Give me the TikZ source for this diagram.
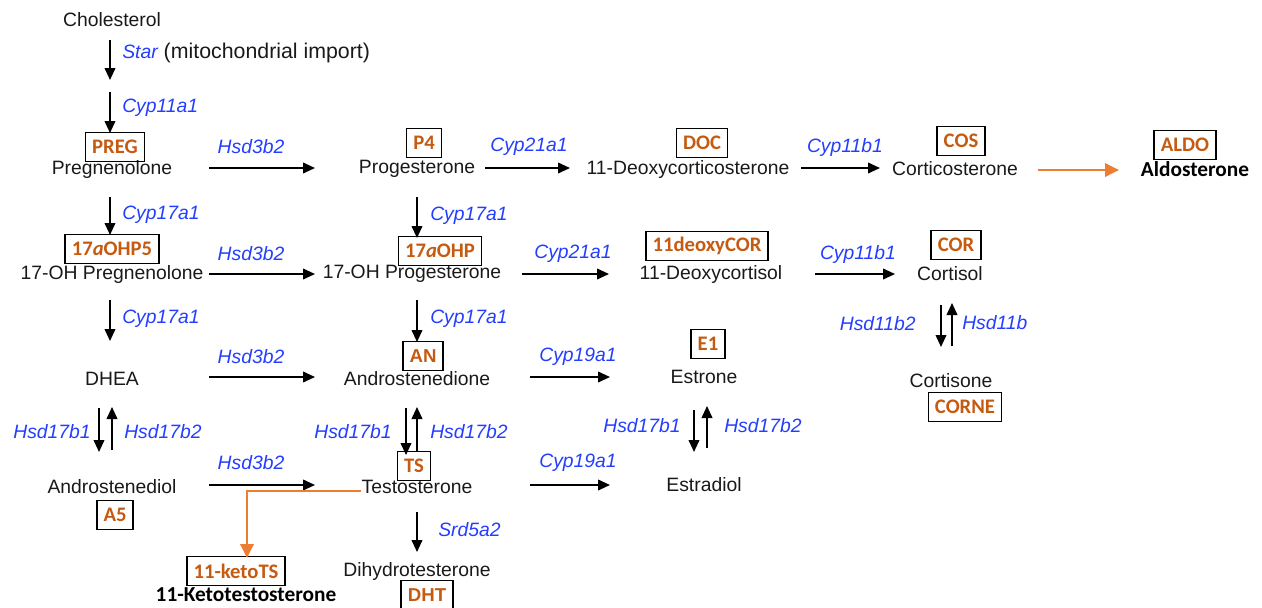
\documentclass[tikz,border=0pt]{standalone}
\usepackage{fontspec}
\setmainfont{Liberation Sans}
\newfontfamily\carlito{Carlito}
\usetikzlibrary{arrows.meta}
\definecolor{enzblue}{RGB}{35,62,255}
\definecolor{abbrorange}{RGB}{197,90,17}
\definecolor{arrorange}{RGB}{237,125,49}
\definecolor{mettext}{RGB}{25,25,25}
\tikzset{
  met/.style={font=\fontsize{14.5}{16}\selectfont, text=mettext, inner sep=0pt, anchor=center},
  metbold/.style={font=\carlito\bfseries\fontsize{16}{18}\selectfont, text=black, inner sep=0pt, anchor=center},
  enz/.style={font=\fontsize{14.5}{16}\selectfont\itshape, text=enzblue, inner sep=0pt},
  abbr/.style={draw=black, line width=1.1pt, font=\carlito\bfseries\fontsize{15.5}{17}\selectfont, text=abbrorange, inner xsep=5pt, minimum height=21.5pt, anchor=center},
  abbrA/.style={abbr, font=\bfseries\fontsize{14}{16}\selectfont},
  arr/.style={line width=1.3pt, -{Triangle[length=9pt,width=8pt]}},
  oarr/.style={line width=1.8pt, draw=arrorange, -{Triangle[length=10.5pt,width=10pt]}, color=arrorange},
}
\begin{document}
\begin{tikzpicture}[x=0.75pt,y=-0.75pt]
\useasboundingbox (0,0) rectangle (1262,607);

% ---------- metabolites ----------
\node[met] (chol) at (112,20) {Cholesterol};
\node[met] (preg) at (112,169) {Pregnenolone};
\node[met] (ohpreg) at (112,274) {17-OH Pregnenolone};
\node[met] (dhea) at (112,379) {DHEA};
\node[met] (adiol) at (112,487) {Androstenediol};
\node[met] (prog) at (417,169) {Progesterone};
\node[met] (ohprog) at (412,274) {17-OH Progesterone};
\node[met] (adione) at (417,379) {Androstenedione};
\node[met] (testo) at (417,487) {Testosterone};
\node[met] (dht) at (417,571) {Dihydrotesterone};
\node[met] (doc) at (688,169) {11-Deoxycorticosterone};
\node[met] (dcort) at (711,274) {11-Deoxycortisol};
\node[met] (estrone) at (704,377) {Estrone};
\node[met] (estradiol) at (704,485) {Estradiol};
\node[met] (cortico) at (955,169) {Corticosterone};
\node[met] (cortisol) at (950,274) {Cortisol};
\node[met] (cortisone) at (951,381) {Cortisone};
\node[metbold] (aldo) at (1195,169) {Aldosterone};
\node[metbold] (kts) at (246,595) {11-Ketotestosterone};

% ---------- abbreviation boxes ----------
\node[abbr] (bpreg) at (115,147) {PREG};
\node[abbr] (bohp5) at (112,249) {17\textit{a}OHP5};
\node[abbr] (ba5) at (115,515) {A5};
\node[abbr] (bp4) at (424,143) {P4};
\node[abbr] (bohp) at (440,251) {17\textit{a}OHP};
\node[abbrA] (ban) at (423,356) {AN};
\node[abbr] (bts) at (414,466) {TS};
\node[abbrA] (bdht) at (427,595) {DHT};
\node[abbr] (bkts) at (236,571) {11-ketoTS};
\node[abbr] (bdoc) at (702,143) {DOC};
\node[abbr] (bdcor) at (707,246) {11deoxyCOR};
\node[abbr] (be1) at (708,344) {E1};
\node[abbr] (bcos) at (961,141) {COS};
\node[abbr] (bcor) at (956,245) {COR};
\node[abbr] (bcorne) at (965,407) {CORNE};
\node[abbr] (baldo) at (1185,145) {ALDO};

% ---------- arrow end points ----------
\coordinate (s1a) at (110,40);  \coordinate (s1b) at (110,80);
\coordinate (c11a) at (110,92); \coordinate (c11b) at (110,133);
\coordinate (v1a) at (110,197); \coordinate (v1b) at (110,235);
\coordinate (v2a) at (110,300); \coordinate (v2b) at (110,341);
\coordinate (d1a) at (99,408);  \coordinate (d1b) at (99,452);
\coordinate (u1a) at (112,450); \coordinate (u1b) at (112,407);
\coordinate (h1a) at (209,168); \coordinate (h1b) at (315,168);
\coordinate (h2a) at (209,274); \coordinate (h2b) at (315,274);
\coordinate (h3a) at (209,377); \coordinate (h3b) at (315,377);
\coordinate (h4a) at (209,485); \coordinate (h4b) at (315,485);
\coordinate (p1a) at (417,197); \coordinate (p1b) at (417,238);
\coordinate (p2a) at (417,300); \coordinate (p2b) at (417,342);
\coordinate (d2a) at (406,408); \coordinate (d2b) at (406,455);
\coordinate (u2a) at (417,452); \coordinate (u2b) at (417,407);
\coordinate (sr1) at (417,512); \coordinate (sr2) at (417,552);
\coordinate (c21a) at (485,168); \coordinate (c21b) at (570,168);
\coordinate (c22a) at (522,274); \coordinate (c22b) at (609,274);
\coordinate (c19a) at (530,377); \coordinate (c19b) at (610,377);
\coordinate (c19c) at (530,485); \coordinate (c19d) at (610,485);
\coordinate (d3a) at (694,410); \coordinate (d3b) at (694,452);
\coordinate (u3a) at (707,448); \coordinate (u3b) at (707,406);
\coordinate (cb1a) at (801,168); \coordinate (cb1b) at (880,168);
\coordinate (cb2a) at (815,274); \coordinate (cb2b) at (895,274);
\coordinate (d4a) at (941,305); \coordinate (d4b) at (941,347);
\coordinate (u4a) at (952,346); \coordinate (u4b) at (952,303);
\coordinate (oa1) at (1038,170); \coordinate (oa2) at (1119,170);
\coordinate (ob1) at (361,491); \coordinate (ob2) at (247,491); \coordinate (ob3) at (247,558);

% ---------- arrows ----------
\draw[arr] (s1a) -- (s1b);
\draw[arr] (c11a) -- (c11b);
\draw[arr] (v1a) -- (v1b);
\draw[arr] (v2a) -- (v2b);
\draw[arr] (d1a) -- (d1b);
\draw[arr] (u1a) -- (u1b);
\draw[arr] (h1a) -- (h1b);
\draw[arr] (h2a) -- (h2b);
\draw[arr] (h3a) -- (h3b);
\draw[arr] (h4a) -- (h4b);
\draw[arr] (p1a) -- (p1b);
\draw[arr] (p2a) -- (p2b);
\draw[arr] (d2a) -- (d2b);
\draw[arr] (u2a) -- (u2b);
\draw[arr] (sr1) -- (sr2);
\draw[arr] (c21a) -- (c21b);
\draw[arr] (c22a) -- (c22b);
\draw[arr] (c19a) -- (c19b);
\draw[arr] (c19c) -- (c19d);
\draw[arr] (d3a) -- (d3b);
\draw[arr] (u3a) -- (u3b);
\draw[arr] (cb1a) -- (cb1b);
\draw[arr] (cb2a) -- (cb2b);
\draw[arr] (d4a) -- (d4b);
\draw[arr] (u4a) -- (u4b);
\draw[oarr] (oa1) -- (oa2);
\draw[oarr] (ob1) -- (ob2) -- (ob3);

% ---------- enzyme labels ----------
\node[enz, anchor=west] (lstar) at (122,53) {Star\/ \upshape\color{mettext}\fontsize{16}{18}\selectfont(mitochondrial import)};
\node[enz, anchor=west] (lc11a) at (122,108) {Cyp11a1};
\node[enz, anchor=west] (lv1) at (122,215) {Cyp17a1};
\node[enz, anchor=west] (lv2) at (122,319) {Cyp17a1};
\node[enz, anchor=east] (lhd1) at (91,432) {Hsd17b1};
\node[enz, anchor=west] (lhu1) at (124,432) {Hsd17b2};
\node[enz] (lh1) at (251,147) {Hsd3b2};
\node[enz] (lh2) at (251,254) {Hsd3b2};
\node[enz] (lh3) at (251,357) {Hsd3b2};
\node[enz] (lh4) at (251,463) {Hsd3b2};
\node[enz, anchor=west] (lp1) at (430,216) {Cyp17a1};
\node[enz, anchor=west] (lp2) at (430,319) {Cyp17a1};
\node[enz, anchor=east] (lhd2) at (392,432) {Hsd17b1};
\node[enz, anchor=west] (lhu2) at (430,432) {Hsd17b2};
\node[enz, anchor=west] (lsr) at (438,530) {Srd5a2};
\node[enz] (lc21) at (529,147) {Cyp21a1};
\node[enz] (lc22) at (573,254) {Cyp21a1};
\node[enz] (lc19a) at (578,357) {Cyp19a1};
\node[enz] (lc19b) at (578,463) {Cyp19a1};
\node[enz, anchor=east] (lhd3) at (681,426) {Hsd17b1};
\node[enz, anchor=west] (lhu3) at (724,426) {Hsd17b2};
\node[enz] (lcb1) at (845,147) {Cyp11b1};
\node[enz] (lcb2) at (858,254) {Cyp11b1};
\node[enz, anchor=east] (lhd4) at (916,324) {Hsd11b2};
\node[enz, anchor=west] (lhu4) at (962,323) {Hsd11b};
\end{tikzpicture}
\end{document}
